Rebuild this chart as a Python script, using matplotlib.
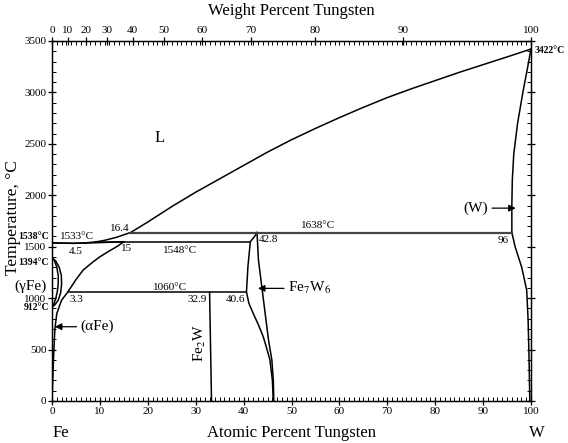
import numpy as np
import matplotlib
matplotlib.use("Agg")
import matplotlib.pyplot as plt
from matplotlib.ticker import MultipleLocator, FixedLocator

plt.rcParams['font.family'] = ['Liberation Serif', 'DejaVu Serif']
plt.rcParams['mathtext.fontset'] = 'stix'

# ---- data (atomic percent W, temperature in C) ----
liq_x = [0, 2, 4.5, 7, 9, 11, 13.5, 16.4, 20, 25, 30, 35, 40, 45, 50, 55, 60, 65, 70,
         75, 80, 85, 90, 95, 100]
liq_T = [1538, 1535, 1533, 1537, 1546, 1562, 1592, 1638, 1740, 1890, 2030, 2160,
         2290, 2420, 2540, 2650, 2755, 2855, 2950, 3035, 3115, 3195, 3270, 3345, 3422]

sol_a_x = [0, 2, 4.5, 8, 12, 15]
sol_a_T = [1538, 1535, 1533, 1537, 1543, 1548]

solv_a_x = [0, 0.15, 0.35, 0.6, 1.0, 2.0, 3.3, 5, 6.5, 8.5, 10, 12, 13.5, 15]
solv_a_T = [0, 200, 450, 700, 850, 980, 1060, 1180, 1273, 1350, 1402, 1460, 1500, 1548]

gam_out_x = [0, 0.8, 1.5, 1.95, 2.0, 1.8, 1.3, 0.6, 0]
gam_out_T = [1394, 1360, 1300, 1220, 1130, 1050, 980, 935, 912]
gam_in_x = [0, 0.55, 1.0, 1.3, 1.3, 1.1, 0.75, 0.35, 0]
gam_in_T = [1394, 1360, 1300, 1220, 1140, 1060, 990, 940, 912]

sol_w_x = [96, 96.0, 96.1, 96.4, 97.2, 98.3, 99.2, 100]
sol_w_T = [1638, 1900, 2150, 2400, 2700, 3000, 3220, 3422]

solv_w_x = [96, 96.7, 98.05, 99.1, 99.4, 99.6, 99.75]
solv_w_T = [1638, 1497, 1302, 1079, 787, 400, 0]

mu_l_x = [42.8, 42.3, 41.4, 40.9, 40.6, 41.1, 42.0, 43.1, 44.1, 44.9, 45.5, 46.0, 46.2]
mu_l_T = [1638, 1600, 1548, 1305, 1060, 950, 852, 740, 625, 500, 398, 204, 0]
mu_r_x = [42.8, 43.1, 43.8, 44.5, 45.2, 45.9, 46.2, 46.3]
mu_r_T = [1638, 1370, 1111, 852, 593, 398, 204, 0]

fe2w_x = [32.9, 33.3]
fe2w_T = [1060, 0]

iso_1638 = [16.4, 96]
iso_1548 = [9, 41.4]
iso_1060 = [3.3, 40.6]

wt_ticks = [0, 10, 20, 30, 40, 50, 60, 70, 80, 90, 100]
M_FE, M_W = 55.845, 183.84


def wt_to_at(w):
    w = np.asarray(w, dtype=float)
    nw = w / M_W
    nf = (100 - w) / M_FE
    return 100 * nw / (nw + nf)


W, H = 568, 443
fig = plt.figure(figsize=(W / 100, H / 100), dpi=100)
L, R, T, B = 52, 531, 41, 401
ax = fig.add_axes([L / W, 1 - B / H, (R - L) / W, (B - T) / H])
ax.set_xlim(0, 100)
ax.set_ylim(0, 3500)

lw = 1.1
k = 'black'
ax.plot(liq_x, liq_T, color=k, lw=lw)
ax.plot(sol_a_x, sol_a_T, color=k, lw=lw)
ax.plot(solv_a_x, solv_a_T, color=k, lw=lw)
ax.plot(gam_out_x, gam_out_T, color=k, lw=lw)
ax.plot(gam_in_x, gam_in_T, color=k, lw=lw)
ax.plot(sol_w_x, sol_w_T, color=k, lw=lw)
ax.plot(solv_w_x, solv_w_T, color=k, lw=lw)
ax.plot(mu_l_x, mu_l_T, color=k, lw=lw)
ax.plot(mu_r_x, mu_r_T, color=k, lw=lw)
ax.plot(fe2w_x, fe2w_T, color=k, lw=lw)
ax.plot(iso_1638, [1638, 1638], color='#444444', lw=1.6)
ax.plot(iso_1548, [1548, 1548], color=k, lw=lw)
ax.plot(iso_1060, [1060, 1060], color=k, lw=lw)

# ticks
ax.xaxis.set_major_locator(MultipleLocator(10))
ax.xaxis.set_minor_locator(MultipleLocator(1))
ax.yaxis.set_major_locator(MultipleLocator(500))
ax.yaxis.set_minor_locator(MultipleLocator(100))
ax.tick_params(which='major', direction='inout', length=6, width=0.9,
               labelsize=8, right=True, pad=1)
ax.tick_params(which='minor', direction='in', length=3, width=0.7, right=True)
for s in ax.spines.values():
    s.set_linewidth(1.0)

axt = ax.twiny()
axt.set_xlim(0, 100)
axt.xaxis.set_major_locator(FixedLocator(wt_to_at(wt_ticks)))
axt.set_xticklabels([str(v) for v in wt_ticks])
axt.xaxis.set_minor_locator(MultipleLocator(1))
axt.tick_params(which='major', direction='inout', length=6, width=0.9, labelsize=8, pad=1)
axt.tick_params(which='minor', direction='in', length=3, width=0.7)

# axis titles
fig.text(291.5 / W, 1 - 11 / H, 'Weight Percent Tungsten', ha='center', va='center', fontsize=12)
fig.text(291.5 / W, 1 - 433 / H, 'Atomic Percent Tungsten', ha='center', va='center', fontsize=12)
fig.text(53 / W, 1 - 433 / H, 'Fe', ha='left', va='center', fontsize=12)
fig.text(537 / W, 1 - 433 / H, 'W', ha='center', va='center', fontsize=12)
fig.text(13 / W, 1 - 218 / H, 'Temperature, \u00b0C', ha='center', va='center',
         rotation=90, fontsize=12.5)

# annotations
fs = 8
ax.text(22.5, 2556, 'L', fontsize=12, ha='center', va='center')
ax.text(55.5, 1710, '1638\u00b0C', fontsize=fs, ha='center', va='center')
ax.text(14.2, 1679, '16.4', fontsize=fs, ha='center', va='center')
ax.text(5.2, 1597, '1533\u00b0C', fontsize=fs, ha='center', va='center')
ax.text(5.0, 1451, '4.5', fontsize=fs, ha='center', va='center')
ax.text(15.6, 1484, '15', fontsize=fs, ha='center', va='center')
ax.text(26.7, 1467, '1548\u00b0C', fontsize=fs, ha='center', va='center')
ax.text(45.2, 1571, '42.8', fontsize=fs, ha='center', va='center')
ax.text(24.6, 1105, '1060\u00b0C', fontsize=fs, ha='center', va='center')
ax.text(5.0, 982, '3.3', fontsize=fs, ha='center', va='center')
ax.text(30.2, 982, '32.9', fontsize=fs, ha='center', va='center')
ax.text(38.4, 982, '40.6', fontsize=fs, ha='center', va='center')
ax.text(94.2, 1565, '96', fontsize=fs, ha='center', va='center')
ax.text(30.9, 564, 'Fe$_2$W', fontsize=11, ha='center', va='center', rotation=90)

ax.annotate('(W)', xy=(96.8, 1875), xytext=(91, 1875), fontsize=11, ha='right', va='center',
            arrowprops=dict(arrowstyle='-|>', color='k', lw=0.9, mutation_scale=10,
                            shrinkA=1, shrinkB=0))
ax.annotate('Fe$_7$W$_6$', xy=(43.0, 1095), xytext=(49.3, 1095), fontsize=11, ha='left',
            va='center',
            arrowprops=dict(arrowstyle='-|>', color='k', lw=0.9, mutation_scale=10,
                            shrinkA=1, shrinkB=0))
ax.annotate('(\u03b1Fe)', xy=(0.6, 722), xytext=(6.0, 722), fontsize=11, ha='left', va='center',
            arrowprops=dict(arrowstyle='-|>', color='k', lw=0.9, mutation_scale=10,
                            shrinkA=1, shrinkB=0))

# left-side labels (outside axes)
bfs = 7
ax.text(-0.6, 1600, '1538\u00b0C', fontsize=bfs, fontweight='bold', ha='right', va='center',
        clip_on=False)
ax.text(-0.6, 1345, '1394\u00b0C', fontsize=bfs, fontweight='bold', ha='right', va='center',
        clip_on=False)
ax.text(-0.6, 905, '912\u00b0C', fontsize=bfs, fontweight='bold', ha='right', va='center',
        clip_on=False)
ax.text(-1.2, 1117, '(\u03b3Fe)', fontsize=11, ha='right', va='center', clip_on=False)
ax.text(100.7, 3411, '3422\u00b0C', fontsize=bfs, fontweight='bold', ha='left', va='center',
        clip_on=False)

fig.savefig('out.png', dpi=100)
